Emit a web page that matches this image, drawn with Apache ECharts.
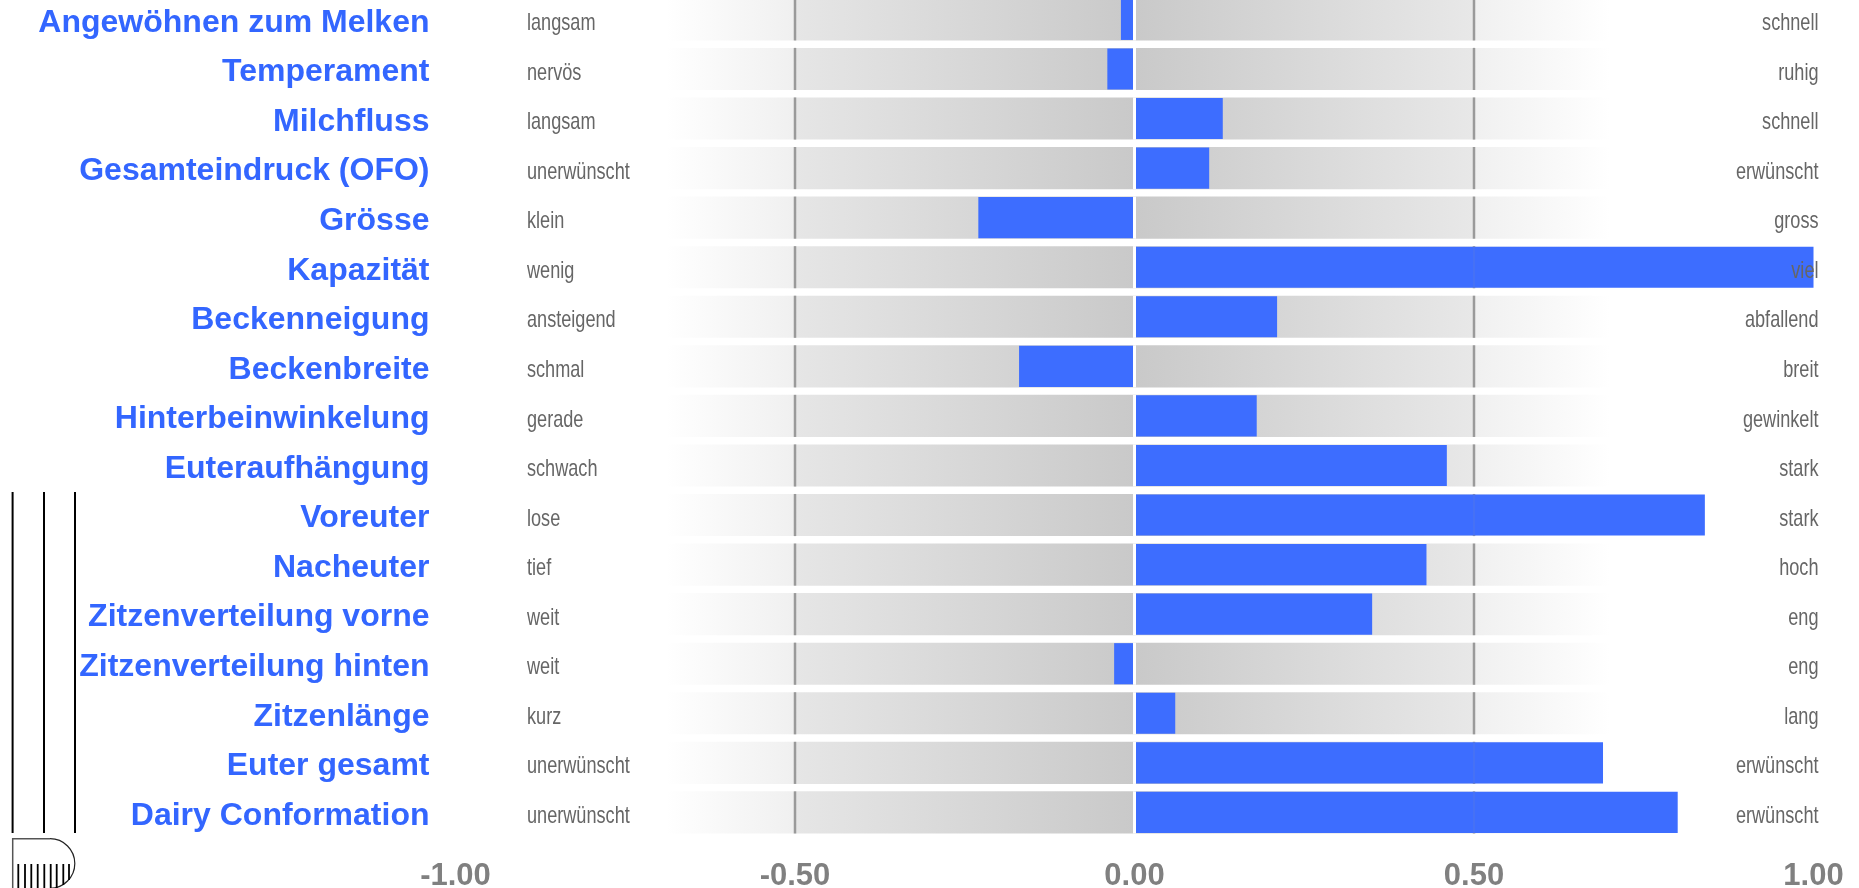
<!DOCTYPE html>
<html><head><meta charset="utf-8">
<style>html,body{margin:0;padding:0;background:#fff}#c{width:1859px;height:888px}</style>
<script src="https://cdn.jsdelivr.net/npm/echarts@6/dist/echarts.min.js"></script>
</head><body><div id="c"></div>
<script>
const traits = ["Angewöhnen zum Melken","Temperament","Milchfluss","Gesamteindruck (OFO)","Grösse","Kapazität","Beckenneigung","Beckenbreite","Hinterbeinwinkelung","Euteraufhängung","Voreuter","Nacheuter","Zitzenverteilung vorne","Zitzenverteilung hinten","Zitzenlänge","Euter gesamt","Dairy Conformation"];
const lowLabels = ["langsam","nervös","langsam","unerwünscht","klein","wenig","ansteigend","schmal","gerade","schwach","lose","tief","weit","weit","kurz","unerwünscht","unerwünscht"];
const highLabels = ["schnell","ruhig","schnell","erwünscht","gross","viel","abfallend","breit","gewinkelt","stark","stark","hoch","eng","eng","lang","erwünscht","erwünscht"];
const values = [-0.02,-0.04,0.13,0.11,-0.23,1.00,0.21,-0.17,0.18,0.46,0.84,0.43,0.35,-0.03,0.06,0.69,0.80];
const sideTicks = [-0.5,0.5];
const hatchX = [18.3,25,31.3,37.7,44.3,50.7,56.7,63.3,69];
const hatchEnd = [888,888,888,888,888,888,888,885,880];

const chart = echarts.init(document.getElementById('c'));
const sans = '"Liberation Sans",Arial,sans-serif';
const bandFill = new echarts.graphic.LinearGradient(0,0,1,0,[
 {offset:0.155,color:'#ffffff'},{offset:0.2495,color:'#f0f0f0'},{offset:0.2505,color:'#e6e6e6'},
 {offset:0.5,color:'#c9c9c9'},{offset:0.7495,color:'#e8e8e8'},{offset:0.7505,color:'#f0f0f0'},{offset:0.85,color:'#ffffff'}]);
const rows = traits.map((t,i)=>[i]);
chart.setOption({
 animation:false,
 grid:{left:455.5,right:45.5,top:-5.4,height:842.6,outerBoundsMode:'none'},
 xAxis:{type:'value',min:-1,max:1,interval:0.5,axisLine:{show:false},axisTick:{show:false},splitLine:{show:false},
  axisLabel:{margin:24,fontFamily:sans,fontWeight:'bold',fontSize:31,color:'#808080',hideOverlap:false,formatter:v=>v.toFixed(2)}},
 yAxis:{type:'category',inverse:true,data:traits,axisLine:{show:false},axisTick:{show:false},axisLabel:{show:false}},
 series:[
  {type:'custom',name:'bands',z:1,silent:true,clip:false,data:rows,encode:{y:0},
   renderItem(p,api){
    const row=api.value(0),h=api.size([0,1])[1]*0.85;
    const l=api.coord([-1,row]),r=api.coord([1,row]);
    const kids=[{type:'rect',shape:{x:l[0],y:l[1]-h/2,width:r[0]-l[0],height:h},style:{fill:bandFill}}];
    sideTicks.forEach(g=>{const c=api.coord([g,row]);
     kids.push({type:'line',shape:{x1:c[0],y1:c[1]-h/2,x2:c[0],y2:c[1]+h/2},style:{stroke:'#9a9a9a',lineWidth:2.5}});});
    return {type:'group',children:kids};
   }},
  {type:'bar',name:'values',z:3,data:values,barWidth:'83%',itemStyle:{color:'#3d6dff'}},
  {type:'custom',name:'zero',z:4,silent:true,clip:false,data:rows,encode:{y:0},
   renderItem(p,api){
    const row=api.value(0),h=api.size([0,1])[1]*0.85,c=api.coord([0,row]);
    const kids=[{type:'line',shape:{x1:c[0],y1:c[1]-h/2,x2:c[0],y2:c[1]+h/2},style:{stroke:'#ffffff',lineWidth:3}}];
    sideTicks.forEach(g=>{const t=api.coord([g,row]);
     kids.push({type:'line',shape:{x1:t[0],y1:t[1]-h/2,x2:t[0],y2:t[1]+h/2},style:{stroke:'rgba(153,153,153,0.1)',lineWidth:2}});});
    return {type:'group',children:kids};
   }},
  {type:'custom',name:'labels',z:10,silent:true,clip:false,data:rows,encode:{y:0},
   renderItem(p,api){
    const row=api.value(0),l=api.coord([-1,row]),r=api.coord([1,row]);
    const txt=(x,y,text,align)=>({type:'text',x,y,scaleX:0.755,
      style:{text,fontFamily:sans,fontSize:24,fill:'#666666',align,verticalAlign:'middle'}});
    return {type:'group',children:[
     {type:'text',x:l[0]-26,y:l[1]+3.5,style:{text:traits[row],fontFamily:sans,fontWeight:'bold',fontSize:32,fill:'#3366ff',align:'right',verticalAlign:'middle'}},
     txt(l[0]+71.5,l[1]+4,lowLabels[row],'left'),txt(r[0]+5,r[1]+4,highLabels[row],'right')]};
   }}
 ],
 graphic:[
  ...[12.6,44,75].map(x=>({type:'line',shape:{x1:x,y1:492,x2:x,y2:833},style:{stroke:'#000',lineWidth:2},z:5})),
  {type:'polyline',shape:{points:[[12.7,888],[12.7,838.7],[50,838.7]]},style:{fill:'none',stroke:'#555',lineWidth:1.5}},
  {type:'arc',shape:{cx:50,cy:863.5,r:24.8,startAngle:-Math.PI/2,endAngle:Math.PI/2,clockwise:true},style:{fill:'none',stroke:'#222',lineWidth:1.2}},
  ...hatchX.map((x,i)=>({type:'line',shape:{x1:x,y1:864,x2:x,y2:hatchEnd[i]},style:{stroke:'#000',lineWidth:1.8}}))
 ]
});
</script></body></html>
